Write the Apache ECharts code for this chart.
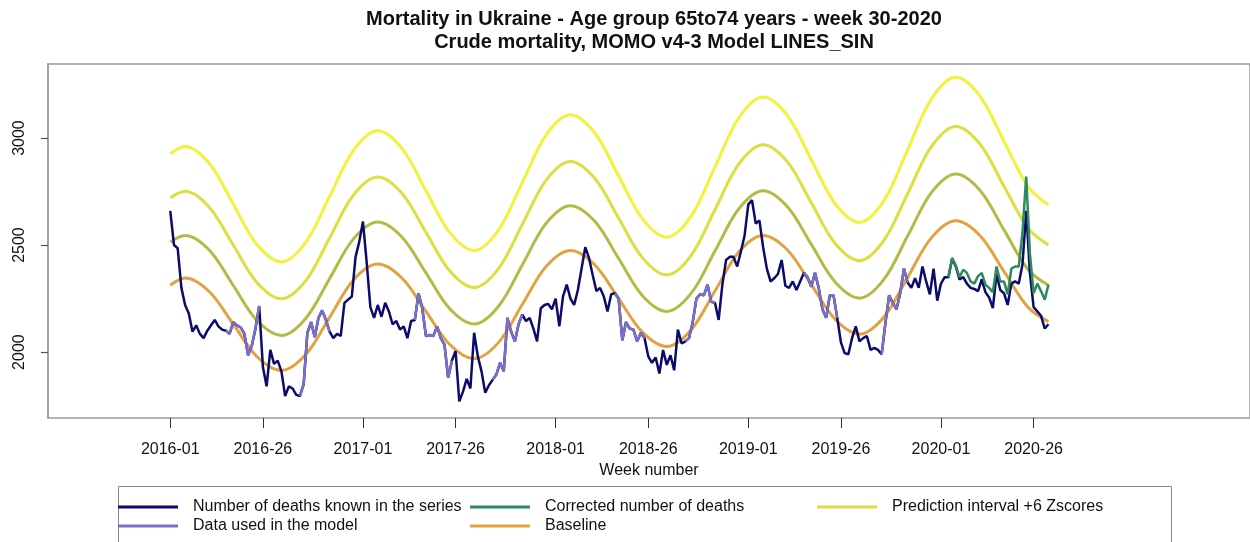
<!DOCTYPE html>
<html>
<head>
<meta charset="utf-8">
<title>Mortality in Ukraine</title>
<script src="https://cdn.jsdelivr.net/npm/echarts@6/dist/echarts.min.js"></script>
<style>
  html, body { margin: 0; padding: 0; background: #fff; }
  #chart { width: 1250px; height: 542px; }
</style>
</head>
<body>
<div id="chart"></div>
<script>
// week index 0 = 2016-01
var tickWeeks = [0, 25, 52, 77, 104, 129, 156, 181, 208, 233]
var tickLabels = ['2016-01', '2016-26', '2017-01', '2017-26', '2018-01', '2018-26', '2019-01', '2019-26', '2020-01', '2020-26']
var yTicks = [2000, 2500, 3000]

// number of deaths known in the series, weekly from 2016-01
var deaths = [
  2660, 2500, 2485, 2300, 2220, 2180, 2095, 2125, 2085, 2065,
  2100, 2125, 2150, 2120, 2105, 2100, 2085, 2140, 2125, 2115,
  2085, 1985, 2030, 2110, 2215, 1930, 1840, 2010, 1945, 1960,
  1910, 1795, 1840, 1830, 1800, 1795, 1850, 2090, 2140, 2070,
  2160, 2195, 2150, 2095, 2065, 2085, 2075, 2230, 2245, 2260,
  2445, 2515, 2610, 2420, 2210, 2160, 2220, 2165, 2230, 2190,
  2130, 2145, 2105, 2120, 2065, 2145, 2150, 2275, 2205, 2075,
  2080, 2075, 2120, 2065, 2035, 1880, 1960, 2005, 1770, 1815,
  1875, 1830, 2090, 1980, 1910, 1810, 1845, 1870, 1895, 1950,
  1910, 2160, 2095, 2050, 2130, 2175, 2145, 2160, 2110, 2050,
  2205, 2220, 2225, 2200, 2250, 2120, 2260, 2315, 2250, 2220,
  2290, 2390, 2490, 2440, 2360, 2285, 2300, 2260, 2190, 2270,
  2275, 2250, 2055, 2140, 2110, 2105, 2050, 2090, 2065, 1980,
  1950, 1975, 1900, 2010, 1940, 1985, 1915, 2105, 2040, 2050,
  2065, 2140, 2250, 2270, 2265, 2315, 2235, 2230, 2150, 2315,
  2430, 2445, 2445, 2400, 2470, 2545, 2690, 2710, 2600, 2615,
  2490, 2390, 2330, 2345, 2365, 2430, 2310, 2300, 2330, 2290,
  2330, 2370, 2350, 2305, 2370, 2300, 2200, 2160, 2265, 2265,
  2160, 2045, 1995, 1990, 2065, 2120, 2050, 2065, 2075, 2010,
  2020, 2010, 1990, 2135, 2265, 2230, 2200, 2275, 2390, 2325,
  2300, 2345, 2300, 2400, 2330, 2270, 2390, 2240, 2320, 2350,
  2350, 2435, 2400, 2340, 2350, 2320, 2300, 2295, 2285, 2340,
  2280, 2255, 2205, 2365, 2290, 2275, 2220, 2320, 2330, 2320,
  2410, 2660, 2370, 2210, 2190, 2170, 2110, 2130
]

// weeks (index ranges) whose data were used in the model
var modelRanges = [[15, 24], [35, 43], [66, 76], [87, 95], [120, 128], [139, 147], [171, 180], [192, 199]]

// corrected number of deaths, from week index 210
var correctedStart = 210
var corrected = [
  2350, 2440, 2405, 2350, 2385, 2370, 2330, 2320, 2355, 2370,
  2315, 2300, 2280, 2400, 2330, 2330, 2270, 2390, 2400, 2400,
  2560, 2820, 2460, 2275, 2320, 2285, 2245, 2315
]

// baseline and prediction intervals, read every ~6.5 weeks
var curveWeeks = [0, 4, 10.5, 17, 23.5, 30, 36.5, 43, 49.5, 56, 62.5, 69, 75.5, 82, 88.5, 95, 101.5, 108, 114.5, 121,
  127.5, 134, 140.5, 147, 153.5, 160, 166.5, 173, 179.5, 186, 192.5, 199, 205.5, 212, 218.5, 225, 231.5, 237]
var baseline = [2312, 2346, 2283, 2130, 1977, 1914, 1987, 2162, 2338, 2411, 2346, 2190, 2034, 1969, 2043, 2222, 2401, 2475, 2409, 2250,
  2092, 2026, 2102, 2285, 2469, 2545, 2478, 2315, 2152, 2084, 2162, 2349, 2536, 2614, 2545, 2377, 2209, 2142]
var pi2 = [2514, 2545, 2477, 2311, 2146, 2078, 2156, 2343, 2530, 2608, 2538, 2370, 2201, 2131, 2212, 2407, 2603, 2684, 2612, 2437,
  2262, 2190, 2273, 2472, 2671, 2754, 2680, 2503, 2326, 2252, 2337, 2542, 2747, 2832, 2756, 2571, 2386, 2312]
var pi4 = [2720, 2751, 2677, 2500, 2323, 2249, 2332, 2533, 2735, 2818, 2742, 2560, 2378, 2302, 2388, 2596, 2805, 2891, 2813, 2626,
  2439, 2361, 2450, 2665, 2880, 2969, 2890, 2698, 2506, 2427, 2519, 2740, 2962, 3054, 2972, 2775, 2579, 2500]
var pi6 = [2927, 2961, 2882, 2691, 2500, 2421, 2511, 2727, 2944, 3034, 2952, 2754, 2557, 2475, 2568, 2792, 3016, 3109, 3025, 2823,
  2621, 2537, 2633, 2864, 3096, 3192, 3106, 2899, 2692, 2606, 2705, 2945, 3185, 3284, 3196, 2985, 2773, 2688]

var font = 'Liberation Sans, Arial, sans-serif'

function pairs(weeks, vals) {
  return vals.map(function (v, i) { return [weeks[i], v] })
}

var deathsData = deaths.map(function (v, i) { return [i, v] })
var modelData = deaths.map(function (v, i) {
  var used = modelRanges.some(function (r) { return i >= r[0] && i <= r[1] })
  return [i, used ? v : null]
})
var correctedData = corrected.map(function (v, i) { return [correctedStart + i, v] })

function curve(name, data, color) {
  return {
    name: name, type: 'line', data: data, smooth: 0.35, showSymbol: false,
    lineStyle: { color: color, width: 3 }, itemStyle: { color: color }, z: 2
  }
}
function jagged(name, data, color, z) {
  return {
    name: name, type: 'line', data: data, showSymbol: false, connectNulls: false,
    lineStyle: { color: color, width: 2.5 }, itemStyle: { color: color }, z: z
  }
}

var chart = echarts.init(document.getElementById('chart'))
var legendBase = {
  orient: 'vertical', top: 498, padding: 0, itemGap: 1,
  icon: 'rect', itemWidth: 60, itemHeight: 3,
  textStyle: { fontFamily: font, fontSize: 16, color: '#111', lineHeight: 18, padding: [0, 0, 0, 10] },
  selectedMode: false
}
chart.setOption({
  animation: false,
  backgroundColor: '#fff',
  title: {
    text: 'Mortality in Ukraine - Age group 65to74 years - week 30-2020\nCrude mortality, MOMO v4-3 Model LINES_SIN',
    left: 649, top: 3, textAlign: 'center',
    textStyle: { fontFamily: font, fontSize: 20, fontWeight: 'bold', color: '#111', lineHeight: 23 }
  },
  legend: [
    Object.assign({}, legendBase, { left: 118, data: ['Number of deaths known in the series', 'Data used in the model'] }),
    Object.assign({}, legendBase, { left: 470, data: ['Corrected number of deaths', 'Baseline'] }),
    Object.assign({}, legendBase, { left: 817, data: [{ name: 'Prediction interval +6 Zscores', itemStyle: { color: '#dcdc48' } }] })
  ],
  graphic: [{
    type: 'rect', left: 116, top: 484, silent: true,
    shape: { width: 1053, height: 80 },
    style: { fill: 'none', stroke: '#888', lineWidth: 1 }
  }],
  grid: { left: 48, right: -3, top: 64, bottom: 124, show: true, borderColor: '#9a9a9a', borderWidth: 1.5 },
  xAxis: {
    type: 'value', min: -33, max: 291.4,
    name: 'Week number', nameLocation: 'middle', nameGap: 44,
    nameTextStyle: { fontFamily: font, fontSize: 16, color: '#111' },
    axisLine: { show: false, onZero: false },
    splitLine: { show: false },
    axisTick: { show: true, length: 10, customValues: tickWeeks, lineStyle: { color: '#333' } },
    axisLabel: {
      customValues: tickWeeks, margin: 24,
      fontFamily: font, fontSize: 16, color: '#111',
      formatter: function (v) { return tickLabels[tickWeeks.indexOf(v)] }
    }
  },
  yAxis: {
    type: 'value', min: 1692, max: 3346,
    axisLine: { show: true, onZero: false, lineStyle: { color: '#9a9a9a', width: 1.5 } },
    splitLine: { show: false },
    axisTick: { show: true, length: 7, customValues: yTicks, lineStyle: { color: '#555', width: 1.2 } },
    axisLabel: {
      customValues: yTicks, rotate: 90, margin: 20, fontFamily: font, fontSize: 16, color: '#111',
      formatter: function (v) { return String(v) }
    }
  },
  series: [
    curve('Prediction interval +6 Zscores', pairs(curveWeeks, pi6), '#f3f23a'),
    curve('Prediction interval +4 Zscores', pairs(curveWeeks, pi4), '#dbe03e'),
    curve('Prediction interval +2 Zscores', pairs(curveWeeks, pi2), '#b4bb44'),
    curve('Baseline', pairs(curveWeeks, baseline), '#e3a140'),
    jagged('Number of deaths known in the series', deathsData, '#0b0b6b', 3),
    jagged('Data used in the model', modelData, '#7a70c6', 4),
    jagged('Corrected number of deaths', correctedData, '#2e8a5e', 5)
  ]
})
</script>
</body>
</html>
